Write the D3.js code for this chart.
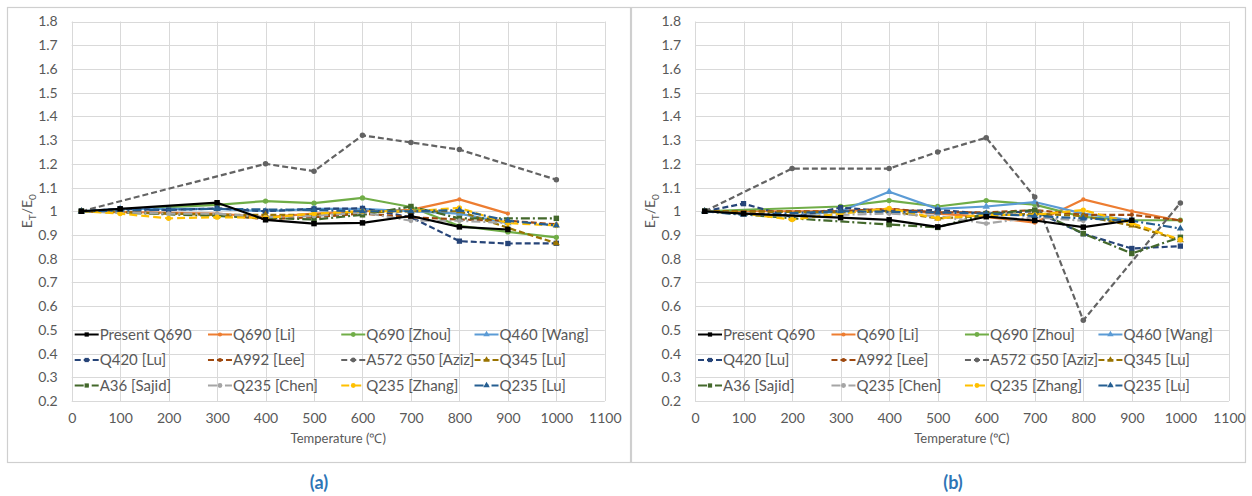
<!DOCTYPE html>
<html>
<head>
<meta charset="utf-8">
<script src="https://cdn.jsdelivr.net/npm/d3@7"></script>
<style>
  html, body { margin: 0; padding: 0; background: #ffffff; }
  svg { display: block; font-family: Lato, "Liberation Sans", Arial, sans-serif; }
</style>
</head>
<body>
<svg id="chart" width="1252" height="496"></svg>
<script>
// Temperatures (°C) at which the modulus ratio was measured
const temps = [20, 100, 200, 300, 400, 500, 600, 700, 800, 900, 1000];
const xTicks = [0, 100, 200, 300, 400, 500, 600, 700, 800, 900, 1000, 1100];
const yTicks = [0.2, 0.3, 0.4, 0.5, 0.6, 0.7, 0.8, 0.9, 1, 1.1, 1.2, 1.3, 1.4, 1.5, 1.6, 1.7, 1.8];

const seriesNames = [
  "Present Q690", "Q690 [Li]", "Q690 [Zhou]", "Q460 [Wang]",
  "Q420 [Lu]", "A992 [Lee]", "A572 G50 [Aziz]", "Q345 [Lu]",
  "A36 [Sajid]", "Q235 [Chen]", "Q235 [Zhang]", "Q235 [Lu]"
];

// ---- Panel (a): ET/E0 ----
const aPresentQ690 = [1.00, 1.01, null, 1.036, 0.964, 0.948, 0.951, 0.980, 0.934, 0.923, null];
const aQ690Li      = [1.00, null, null, 0.990, 0.975, 0.990, 1.000, 1.006, 1.050, 0.990, null];
const aQ690Zhou    = [1.00, null, null, 1.027, 1.043, 1.034, 1.056, 1.018, 0.938, 0.913, 0.890];
const aQ460Wang    = [1.00, 1.010, null, 1.010, 1.000, 1.010, 1.010, 1.000, 0.990, 0.950, null];
const aQ420Lu      = [1.00, 1.010, 1.005, 1.012, 1.000, 1.010, 1.012, 0.975, 0.874, 0.864, 0.865];
const aA992Lee     = [1.00, null, null, 0.985, 0.967, 0.975, 0.990, 0.975, 0.965, 0.960, 0.945];
const aA572Aziz    = [1.00, null, null, null, 1.200, 1.169, 1.320, 1.290, 1.260, null, 1.133];
const aQ345Lu      = [1.00, null, null, 0.985, 0.985, 0.985, 0.995, 1.000, 1.000, 0.930, 0.865];
const aA36Sajid    = [1.00, null, null, 0.980, null, 0.965, 0.985, 1.020, 0.970, null, 0.970];
const aQ235Chen    = [1.00, 0.995, 0.990, 0.990, 0.975, 0.980, 0.995, 0.960, 0.960, 0.950, null];
const aQ235Zhang   = [1.00, 0.990, 0.970, 0.975, 0.972, 0.990, 1.000, 1.000, 1.014, 0.950, 0.940];
const aQ235Lu      = [1.00, null, null, 1.010, null, 1.005, 1.000, 1.000, 1.005, 0.960, 0.940];

// ---- Panel (b): ET/E0 ----
const bPresentQ690 = [1.00, 0.990, null, 0.973, 0.964, 0.934, 0.977, 0.961, 0.933, 0.962, null];
const bQ690Li      = [1.00, null, null, 1.000, 1.010, 0.990, 0.976, 0.952, 1.050, 1.000, 0.960];
const bQ690Zhou    = [1.00, null, null, 1.020, 1.045, 1.020, 1.045, 1.028, 0.976, 0.962, 0.962];
const bQ460Wang    = [1.00, 0.990, 0.980, 1.000, 1.082, 1.010, 1.020, 1.039, 0.990, 0.962, null];
const bQ420Lu      = [1.00, 1.032, 0.975, 1.015, 1.000, 1.005, 0.990, 1.000, 0.905, 0.843, 0.853];
const bA992Lee     = [1.00, null, null, 1.000, 1.010, 0.995, 0.995, 1.005, 0.985, 0.985, 0.962];
const bA572Aziz    = [1.00, null, 1.180, null, 1.180, 1.250, 1.310, 1.060, 0.540, null, 1.035];
const bQ345Lu      = [1.00, null, null, 0.995, 1.000, 0.970, 0.980, 0.990, 0.980, 0.940, 0.878];
const bA36Sajid    = [1.00, null, 0.970, null, 0.944, 0.932, 0.990, 1.005, 0.906, 0.822, 0.890];
const bQ235Chen    = [1.00, 0.990, 0.980, 0.985, 0.990, 0.980, 0.948, 0.975, 0.960, null, null];
const bQ235Zhang   = [1.00, 0.990, 0.965, 0.990, 1.012, 0.970, 0.985, 0.985, 1.005, 0.950, 0.880];
const bQ235Lu      = [1.00, 0.985, null, 1.000, null, 0.995, 0.990, 0.980, 0.970, 0.960, 0.927];

const panelAValues = [aPresentQ690, aQ690Li, aQ690Zhou, aQ460Wang, aQ420Lu, aA992Lee,
                      aA572Aziz, aQ345Lu, aA36Sajid, aQ235Chen, aQ235Zhang, aQ235Lu];
const panelBValues = [bPresentQ690, bQ690Li, bQ690Zhou, bQ460Wang, bQ420Lu, bA992Lee,
                      bA572Aziz, bQ345Lu, bA36Sajid, bQ235Chen, bQ235Zhang, bQ235Lu];

// Line and marker styling for each series (same order as seriesNames)
const seriesStyles = [
  { color: "#000000", dash: null,        marker: d3.symbolSquare,   size: 30 },
  { color: "#ED7D31", dash: null,        marker: d3.symbolCircle,   size: 14 },
  { color: "#70AD47", dash: null,        marker: d3.symbolCircle,   size: 22 },
  { color: "#5B9BD5", dash: null,        marker: d3.symbolTriangle, size: 24 },
  { color: "#264478", dash: "6,3",       marker: d3.symbolSquare,   size: 28 },
  { color: "#9E480E", dash: "6,3",       marker: d3.symbolCircle,   size: 14 },
  { color: "#636363", dash: "6,3",       marker: d3.symbolCircle,   size: 24 },
  { color: "#997300", dash: "6,3",       marker: d3.symbolTriangle, size: 22 },
  { color: "#43682B", dash: "9,3,2,3",   marker: d3.symbolSquare,   size: 30 },
  { color: "#A5A5A5", dash: "9,3,2,3",   marker: d3.symbolCircle,   size: 18 },
  { color: "#FFC000", dash: "8,4",       marker: d3.symbolCircle,   size: 22 },
  { color: "#255E91", dash: "9,3,2,3",   marker: d3.symbolTriangle, size: 22 }
];

const svg = d3.select("#chart");
const gridColor = "#d9d9d9";
const textColor = "#595959";

function drawPanel(frame, plotLeft, plotRight, values, caption, captionX) {
  const top = 21.5, bottom = 401;
  const x = d3.scaleLinear().domain([0, 1100]).range([plotLeft, plotRight]);
  const y = d3.scaleLinear().domain([0.2, 1.8]).range([bottom, top]);

  // panel frame
  svg.append("rect")
    .attr("x", frame[0]).attr("y", frame[1])
    .attr("width", frame[2]).attr("height", frame[3])
    .attr("fill", "none").attr("stroke", "#cfcfcf").attr("stroke-width", 1.2);

  const g = svg.append("g");

  // gridlines
  g.append("g").selectAll("line").data(yTicks).join("line")
    .attr("x1", plotLeft).attr("x2", plotRight)
    .attr("y1", d => Math.round(y(d)) + 0.5).attr("y2", d => Math.round(y(d)) + 0.5)
    .attr("stroke", gridColor).attr("stroke-width", 1);
  g.append("g").selectAll("line").data(xTicks).join("line")
    .attr("y1", top).attr("y2", bottom)
    .attr("x1", d => Math.round(x(d)) + 0.5).attr("x2", d => Math.round(x(d)) + 0.5)
    .attr("stroke", gridColor).attr("stroke-width", 1);

  // y axis tick labels
  const yAxis = d3.axisLeft(y).tickValues(yTicks).tickSize(0).tickPadding(14)
    .tickFormat(d => String(+d.toFixed(1)));
  g.append("g").attr("transform", `translate(${plotLeft},0)`).call(yAxis)
    .call(a => a.select(".domain").remove())
    .selectAll("text").attr("fill", textColor).style("font-size", "14px")
    .style("font-family", "Lato, 'Liberation Sans', sans-serif");

  // x axis tick labels
  const xAxis = d3.axisBottom(x).tickValues(xTicks).tickSize(0).tickPadding(12)
    .tickFormat(d3.format("d"));
  g.append("g").attr("transform", `translate(0,${bottom})`).call(xAxis)
    .call(a => a.select(".domain").remove())
    .selectAll("text").attr("fill", textColor).style("font-size", "14px")
    .style("font-family", "Lato, 'Liberation Sans', sans-serif");

  // axis titles
  g.append("text")
    .attr("x", (plotLeft + plotRight) / 2).attr("y", 443)
    .attr("text-anchor", "middle").attr("fill", textColor)
    .style("font-size", "13px").text("Temperature (℃)");

  const yt = g.append("text")
    .attr("transform", `translate(${plotLeft - 40},${(top + bottom) / 2}) rotate(-90)`)
    .attr("text-anchor", "middle").attr("fill", textColor)
    .style("font-size", "14px");
  yt.append("tspan").text("E");
  yt.append("tspan").attr("dy", 4).style("font-size", "10px").text("T");
  yt.append("tspan").attr("dy", -4).text("/E");
  yt.append("tspan").attr("dy", 4).style("font-size", "10px").text("0");

  // series lines and markers
  const line = d3.line().x(d => x(d.t)).y(d => y(d.v));
  const order = d3.range(1, seriesNames.length).concat([0]);
  order.forEach(i => {
    const st = seriesStyles[i];
    const pts = temps.map((t, k) => ({ t, v: values[i][k] })).filter(d => d.v !== null);
    g.append("path").datum(pts)
      .attr("d", line).attr("fill", "none")
      .attr("stroke", st.color).attr("stroke-width", 2.2)
      .attr("stroke-dasharray", st.dash)
      .attr("stroke-linejoin", "round");
    g.append("g").selectAll("path").data(pts).join("path")
      .attr("transform", d => `translate(${x(d.t)},${y(d.v)})`)
      .attr("d", d3.symbol().type(st.marker).size(st.size))
      .attr("fill", st.color);
  });

  // legend (4 columns x 3 rows inside the plot area)
  const colW = (plotRight - plotLeft) / 4;
  const rowY = [334.5, 360, 385.5];
  seriesNames.forEach((name, i) => {
    const st = seriesStyles[i];
    const cx = plotLeft + (i % 4) * colW;
    const cy = rowY[Math.floor(i / 4)];
    const lg = g.append("g");
    lg.append("line")
      .attr("x1", cx + 3).attr("x2", cx + 27).attr("y1", cy).attr("y2", cy)
      .attr("stroke", st.color).attr("stroke-width", 2)
      .attr("stroke-dasharray", st.dash);
    lg.append("path")
      .attr("transform", `translate(${cx + 15},${cy})`)
      .attr("d", d3.symbol().type(st.marker).size(Math.min(st.size, 18)))
      .attr("fill", st.color);
    lg.append("text")
      .attr("x", cx + 28).attr("y", cy).attr("dy", "0.35em")
      .attr("fill", textColor).style("font-size", "15px").text(name);
  });

  // panel caption
  svg.append("text")
    .attr("x", captionX).attr("y", 489)
    .attr("text-anchor", "middle").attr("fill", "#2E75B6")
    .style("font-size", "18px").style("font-weight", "bold").text(caption);
}

drawPanel([7.5, 7.5, 623, 455], 71.7, 604.8, panelAValues, "(a)", 319);
drawPanel([631.5, 7.5, 614, 455], 695, 1228.9, panelBValues, "(b)", 953);
</script>
</body>
</html>
